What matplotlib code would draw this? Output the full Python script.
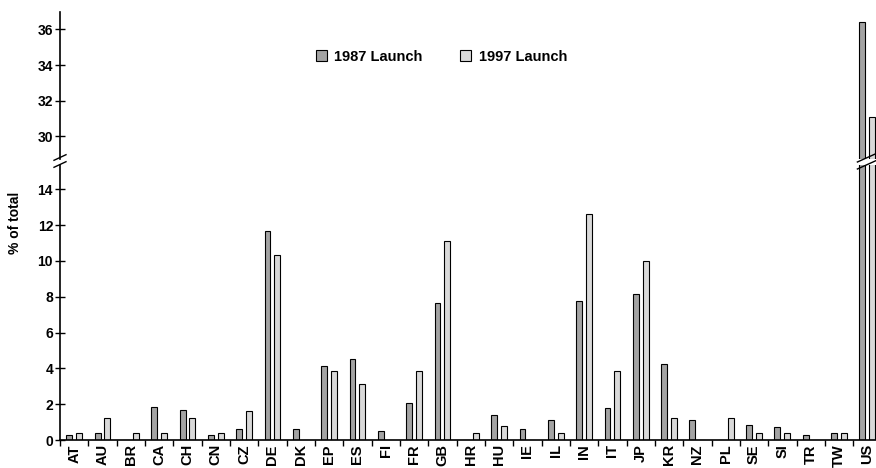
import matplotlib
matplotlib.use("Agg")
import matplotlib.pyplot as plt
from matplotlib.lines import Line2D
import numpy as np

plt.rcParams['font.family'] = ['Liberation Sans', 'DejaVu Sans']
plt.rcParams['font.weight'] = 'bold'

countries = ["AT", "AU", "BR", "CA", "CH", "CN", "CZ", "DE", "DK", "EP",
             "ES", "FI", "FR", "GB", "HR", "HU", "IE", "IL", "IN", "IT",
             "JP", "KR", "NZ", "PL", "SE", "SI", "TR", "TW", "US"]
launch_1987 = [0.28, 0.4, 0.0, 1.83, 1.66, 0.28, 0.6, 11.68, 0.6, 4.12,
               4.53, 0.48, 2.09, 7.64, 0.0, 1.4, 0.6, 1.1, 7.75, 1.77,
               8.18, 4.25, 1.1, 0.0, 0.84, 0.73, 0.28, 0.4, 36.43]
launch_1997 = [0.4, 1.22, 0.4, 0.4, 1.22, 0.4, 1.6, 10.33, 0.0, 3.85,
               3.13, 0.0, 3.85, 11.14, 0.4, 0.78, 0.0, 0.4, 12.6, 3.85,
               9.98, 1.22, 0.0, 1.22, 0.4, 0.4, 0.0, 0.4, 31.05]

c87 = "#a3a3a3"
c97 = "#d9d9d9"

fig = plt.figure(figsize=(8.76, 4.68), dpi=100)
left, width = 60 / 876, 29 * 28.33 / 876
ax_lo = fig.add_axes([left, 28 / 468, width, 275 / 468])
ax_hi = fig.add_axes([left, 309 / 468, width, 147.3 / 468])

x = np.arange(len(countries)) + 0.5
w = 0.21
for ax in (ax_lo, ax_hi):
    ax.bar(x - 0.175, launch_1987, w, color=c87, edgecolor="black", linewidth=0.8,
           label="1987 Launch")
    ax.bar(x + 0.175, launch_1997, w, color=c97, edgecolor="black", linewidth=0.8,
           label="1997 Launch")
    ax.set_xlim(0, len(countries))
    for s in ("top", "right"):
        ax.spines[s].set_visible(False)
    ax.spines["left"].set_linewidth(1.2)
    ax.tick_params(axis="y", direction="inout", length=7, width=1, labelsize=10, pad=1.5)

ax_lo.set_ylim(0, 15.36)
ax_lo.set_yticks(range(0, 15, 2))
ax_lo.set_xticks(range(0, len(countries) + 1))
ax_lo.set_xticklabels([])
ax_lo.set_xticks(x, minor=True)
ax_lo.set_xticklabels(countries, minor=True, rotation=90, fontsize=10.5, fontweight="bold")
ax_lo.tick_params(axis="x", which="major", direction="out", length=4, width=1)
ax_lo.tick_params(axis="x", which="minor", length=0, pad=3)
ax_lo.spines["bottom"].set_linewidth(1.2)

ax_hi.set_ylim(28.71, 37.0)
ax_hi.set_yticks(range(30, 37, 2))
ax_hi.spines["bottom"].set_visible(False)
ax_hi.set_xticks([])

fig.text(15 / 876, 1 - 223 / 468, "% of total", rotation=90, ha="center", va="center",
         fontsize=10, fontweight="bold")

# break marks on the y axis and across the US bars
def slash(xc, yc, dx=6, dy=2.8):
    fig.add_artist(Line2D([(xc - dx) / 876, (xc + dx) / 876],
                          [1 - (yc + dy) / 468, 1 - (yc - dy) / 468],
                          color="black", linewidth=1.0))

for yc in (157.5, 164.5):
    slash(60, yc)
    slash(x[-1] * 28.33 + 60, yc, dx=10, dy=4.5)

handles, labels = ax_hi.get_legend_handles_labels()
ax_hi.legend(handles, labels, loc="center", bbox_to_anchor=(0.504, 1 - 56.7 / 468),
             bbox_transform=fig.transFigure, ncol=2, frameon=False,
             handlelength=0.75, handleheight=0.75, handletextpad=0.5, columnspacing=2.6,
             prop={"size": 10.5, "weight": "bold"})

fig.savefig("out.png", dpi=100)
